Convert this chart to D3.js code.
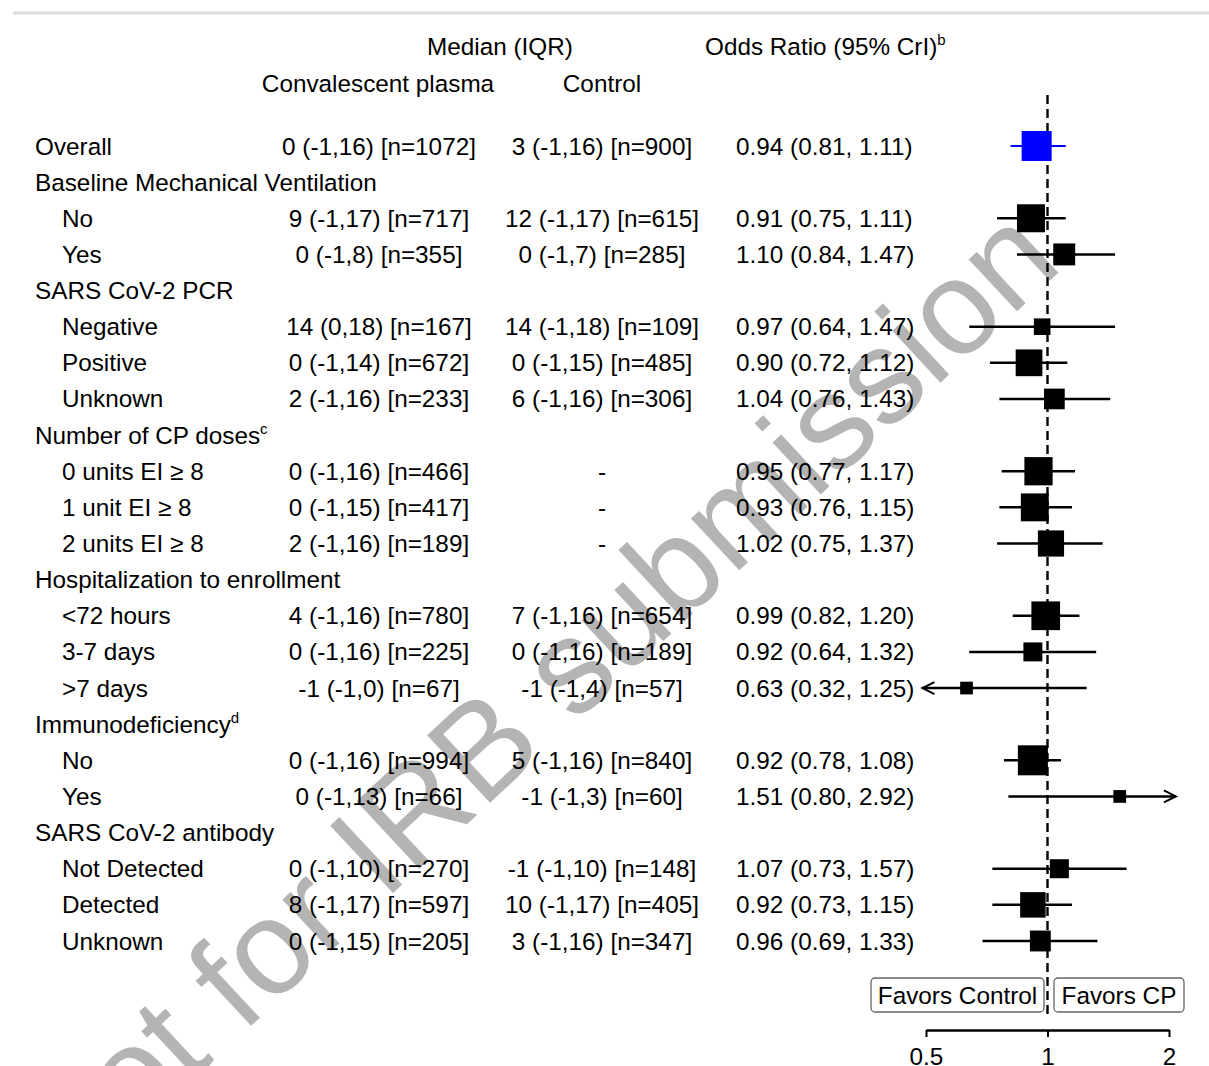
<!DOCTYPE html>
<html>
<head>
<meta charset="utf-8">
<script src="https://cdn.jsdelivr.net/npm/d3@7"></script>
<style>
  html, body { margin: 0; padding: 0; background: #fff; }
  svg { display: block; }
  text { font-family: "Liberation Sans", Arial, Helvetica, sans-serif; fill: #000; }
</style>
</head>
<body>
<svg id="chart" width="1209" height="1066"></svg>
<script>
// ---------------- DATA ----------------
const rowLabels = [
  "Overall",
  "Baseline Mechanical Ventilation", "No", "Yes",
  "SARS CoV-2 PCR", "Negative", "Positive", "Unknown",
  "Number of CP doses", "0 units EI \u2265 8", "1 unit EI \u2265 8", "2 units EI \u2265 8",
  "Hospitalization to enrollment", "<72 hours", "3-7 days", ">7 days",
  "Immunodeficiency", "No", "Yes",
  "SARS CoV-2 antibody", "Not Detected", "Detected", "Unknown"
];
const rowLevel = [0, 0,1,1, 0,1,1,1, 0,1,1,1, 0,1,1,1, 0,1,1, 0,1,1,1];
const rowSup   = [null, null,null,null, null,null,null,null, "c",null,null,null, null,null,null,null, "d",null,null, null,null,null,null];

// Convalescent plasma: median, Q1, Q3, n
const cpMedian = [0, null,9,0, null,14,0,2, null,0,0,2, null,4,0,-1, null,0,0, null,0,8,0];
const cpQ1     = [-1, null,-1,-1, null,0,-1,-1, null,-1,-1,-1, null,-1,-1,-1, null,-1,-1, null,-1,-1,-1];
const cpQ3     = [16, null,17,8, null,18,14,16, null,16,15,16, null,16,16,0, null,16,13, null,10,17,15];
const cpN      = [1072, null,717,355, null,167,672,233, null,466,417,189, null,780,225,67, null,994,66, null,270,597,205];

// Control: median, Q1, Q3, n  (dose rows have no separate control summary)
const ctMedian = [3, null,12,0, null,14,0,6, null,null,null,null, null,7,0,-1, null,5,-1, null,-1,10,3];
const ctQ1     = [-1, null,-1,-1, null,-1,-1,-1, null,null,null,null, null,-1,-1,-1, null,-1,-1, null,-1,-1,-1];
const ctQ3     = [16, null,17,7, null,18,15,16, null,null,null,null, null,16,16,4, null,16,3, null,10,17,16];
const ctN      = [900, null,615,285, null,109,485,306, null,null,null,null, null,654,189,57, null,840,60, null,148,405,347];

// Odds ratio (95% CrI)
const orEst = [0.94, null,0.91,1.10, null,0.97,0.90,1.04, null,0.95,0.93,1.02, null,0.99,0.92,0.63, null,0.92,1.51, null,1.07,0.92,0.96];
const orLo  = [0.81, null,0.75,0.84, null,0.64,0.72,0.76, null,0.77,0.76,0.75, null,0.82,0.64,0.32, null,0.78,0.80, null,0.73,0.73,0.69];
const orHi  = [1.11, null,1.11,1.47, null,1.47,1.12,1.43, null,1.17,1.15,1.37, null,1.20,1.32,1.25, null,1.08,2.92, null,1.57,1.15,1.33];

const xTicks = [0.5, 1, 2];
const xTickLabels = ["0.5", "1", "2"];
const favorLabels = ["Favors Control", "Favors CP"];
const headerMedian = "Median (IQR)";
const headerOR = "Odds Ratio (95% CrI)";
const headerOrSup = "b";
const colHeaders = ["Convalescent plasma", "Control"];
const watermark = "Not for IRB submission";

// ---------------- DRAW ----------------
const svg = d3.select("#chart");
const FS = 24.3;

// top rule
svg.append("line").attr("x1", 13).attr("x2", 1209).attr("y1", 13).attr("y2", 13)
  .attr("stroke", "#dcdcdc").attr("stroke-width", 3);

// watermark (behind everything)
svg.append("text")
  .attr("transform", "translate(532,700) rotate(-43)")
  .attr("text-anchor", "middle").attr("dominant-baseline", "central")
  .style("font-size", "134px").style("fill", "#b4b4b4")
  .text(watermark);

const y = d3.scalePoint().domain(d3.range(rowLabels.length)).range([146, 941]);
const x = d3.scaleLog().domain([0.5, 2]).range([926, 1169]);
const clipLo = 0.49, clipHi = 2.08;

// header
svg.append("text").attr("x", 500).attr("y", 46).attr("text-anchor", "middle")
  .attr("dy", "0.35em").style("font-size", FS + "px").text(headerMedian);
const orH = svg.append("text").attr("x", 705).attr("y", 46).attr("dy", "0.35em").style("font-size", FS + "px");
orH.append("tspan").text(headerOR);
orH.append("tspan").attr("dy", -10).style("font-size", "15px").text(headerOrSup);
svg.append("text").attr("x", 378).attr("y", 83).attr("text-anchor", "middle")
  .attr("dy", "0.35em").style("font-size", FS + "px").text(colHeaders[0]);
svg.append("text").attr("x", 602).attr("y", 83).attr("text-anchor", "middle")
  .attr("dy", "0.35em").style("font-size", FS + "px").text(colHeaders[1]);

// reference line at OR = 1
svg.append("line").attr("x1", x(1)).attr("x2", x(1)).attr("y1", 95).attr("y2", 1016)
  .attr("stroke", "#000").attr("stroke-width", 2.4).attr("stroke-dasharray", "9,5");

const rows = d3.range(rowLabels.length);
const fmtMed = (m, a, b, n) => `${m} (${a},${b}) [n=${n}]`;
const f2 = d3.format(".2f");

// row labels
rows.forEach(i => {
  const t = svg.append("text").attr("x", rowLevel[i] === 0 ? 35 : 62).attr("y", y(i))
    .attr("dy", "0.35em").style("font-size", FS + "px");
  t.append("tspan").text(rowLabels[i]);
  if (rowSup[i]) t.append("tspan").attr("dy", -10).style("font-size", "15px").text(rowSup[i]);

  if (cpN[i] != null) {
    svg.append("text").attr("x", 379).attr("y", y(i)).attr("dy", "0.35em")
      .attr("text-anchor", "middle").style("font-size", FS + "px")
      .text(fmtMed(cpMedian[i], cpQ1[i], cpQ3[i], cpN[i]));
  }
  if (orEst[i] != null) {
    svg.append("text").attr("x", 602).attr("y", y(i)).attr("dy", "0.35em")
      .attr("text-anchor", "middle").style("font-size", FS + "px")
      .text(ctN[i] != null ? fmtMed(ctMedian[i], ctQ1[i], ctQ3[i], ctN[i]) : "-");
    svg.append("text").attr("x", 736).attr("y", y(i)).attr("dy", "0.35em")
      .style("font-size", FS + "px")
      .text(`${f2(orEst[i])} (${f2(orLo[i])}, ${f2(orHi[i])})`);
  }
});

// square size from total sample size (cube-root scale)
const size = d3.scalePow().exponent(1 / 3).domain([0, 1332]).range([0, 28]);
const overallCtrlN = ctN[0];

rows.filter(i => orEst[i] != null).forEach(i => {
  const col = i === 0 ? "#0000ff" : "#000";
  const yy = y(i);
  const lo = Math.max(orLo[i], clipLo), hi = Math.min(orHi[i], clipHi);
  svg.append("line").attr("x1", x(lo)).attr("x2", x(hi)).attr("y1", yy).attr("y2", yy)
    .attr("stroke", col).attr("stroke-width", i === 0 ? 2 : 2.5);
  if (orLo[i] < clipLo) {
    const ax = x(clipLo);
    svg.append("path").attr("d", `M${ax + 12},${yy - 6}L${ax},${yy}L${ax + 12},${yy + 6}`)
      .attr("fill", "none").attr("stroke", col).attr("stroke-width", 2);
  }
  if (orHi[i] > clipHi) {
    const ax = x(clipHi);
    svg.append("path").attr("d", `M${ax - 12},${yy - 6}L${ax},${yy}L${ax - 12},${yy + 6}`)
      .attr("fill", "none").attr("stroke", col).attr("stroke-width", 2);
  }
  const n = cpN[i] + (ctN[i] != null ? ctN[i] : overallCtrlN);
  const s = Math.min(size(n), 30);
  svg.append("rect").attr("x", x(orEst[i]) - s / 2).attr("y", yy - s / 2)
    .attr("width", s).attr("height", s).attr("fill", col);
});

// favors boxes
const boxes = [
  { x0: 871, x1: 1044, label: favorLabels[0] },
  { x0: 1054, x1: 1184, label: favorLabels[1] }
];
boxes.forEach(b => {
  svg.append("rect").attr("x", b.x0).attr("y", 978).attr("width", b.x1 - b.x0).attr("height", 34)
    .attr("rx", 4).attr("fill", "#fff").attr("stroke", "#666").attr("stroke-width", 1.3);
  svg.append("text").attr("x", (b.x0 + b.x1) / 2).attr("y", 995).attr("dy", "0.35em")
    .attr("text-anchor", "middle").style("font-size", FS + "px").text(b.label);
});

// axis
const axis = d3.axisBottom(x).tickValues(xTicks)
  .tickFormat((d, i) => xTickLabels[i]).tickSize(7).tickSizeOuter(0).tickPadding(11);
const ag = svg.append("g").attr("transform", "translate(0,1030)").call(axis);
ag.select(".domain").attr("stroke", "#000").attr("stroke-width", 2.5);
ag.selectAll(".tick line").attr("stroke", "#000").attr("stroke-width", 2);
ag.selectAll(".tick text").style("font-size", FS + "px")
  .style("font-family", '"Liberation Sans", Arial, sans-serif').attr("fill", "#000");
</script>
</body>
</html>
